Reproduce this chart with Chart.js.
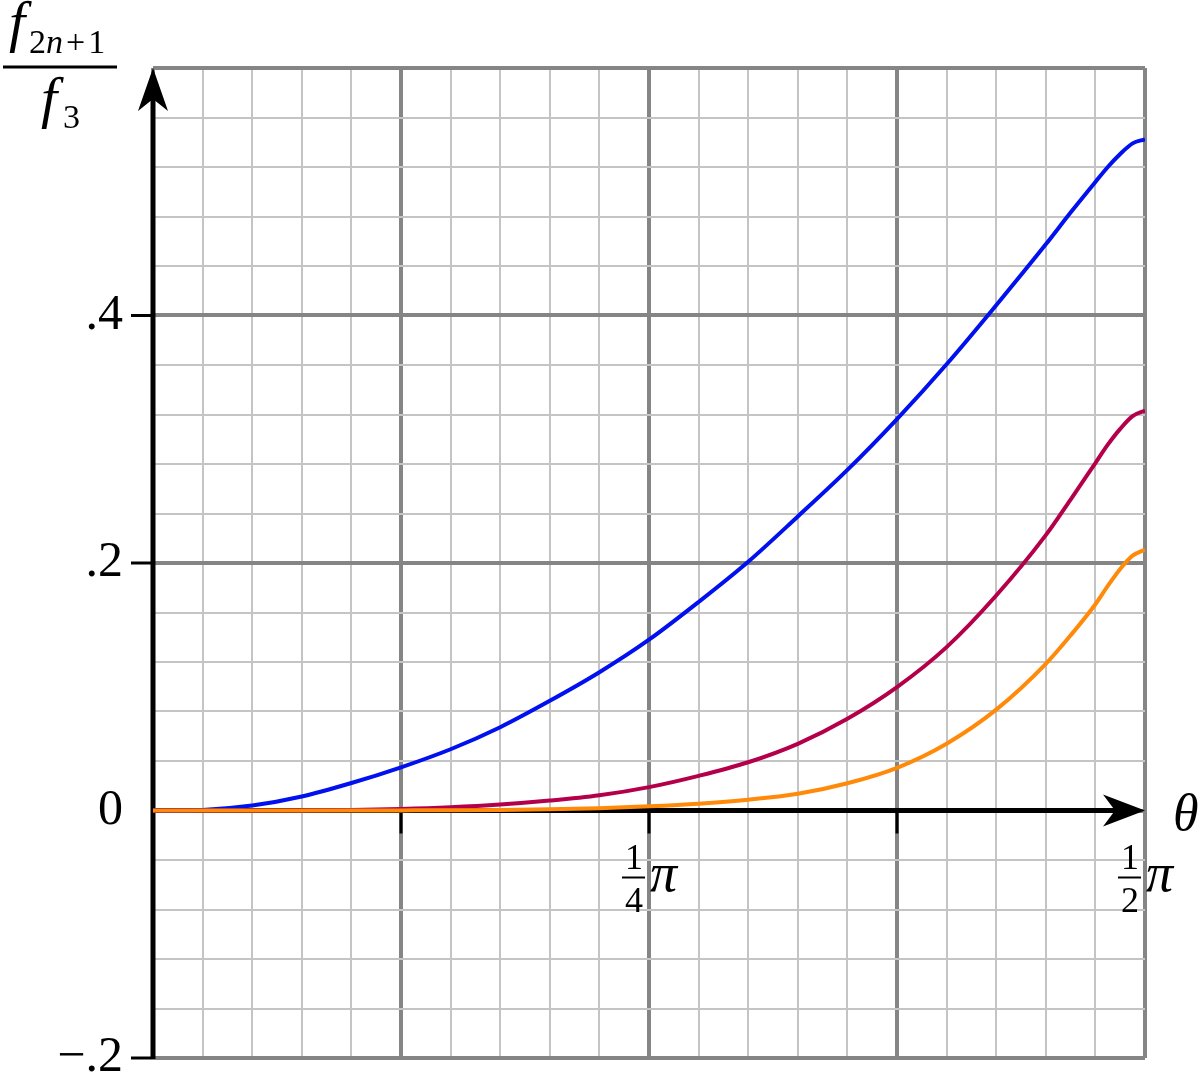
<!DOCTYPE html>
<html>
<head>
<meta charset="utf-8">
<script src="https://cdn.jsdelivr.net/npm/chart.js@4.4.0/dist/chart.umd.min.js"></script>
<style>
    html, body { margin: 0; padding: 0; background: #fff; }
    #wrap { width: 1200px; height: 1080px; }
</style>
</head>
<body>
<div id="wrap"><canvas id="chart" width="1200" height="1080"></canvas></div>
<script>
// theta measured in steps of pi/40 (one minor grid cell), 20 = pi/2
const thetaSteps = [0, 1, 2, 3, 4, 5, 6, 7, 8, 9, 10, 11, 12, 13, 14, 15, 16, 17, 18,
    18.5, 19, 19.25, 19.5, 19.75, 20]

// f_{2n+1} / f_3
const seriesBlue = [0, 0.0005, 0.0040, 0.0113, 0.0222, 0.0349, 0.0495, 0.0673, 0.0886, 0.1117, 0.1380,
    0.1685, 0.2010, 0.2376, 0.2752, 0.3163, 0.3606, 0.4083, 0.4575,
    0.4832, 0.5079, 0.5200, 0.5305, 0.5391, 0.5424]
const seriesRed = [0, 0, 0, 0.0001, 0.0004, 0.0012, 0.0026, 0.0048, 0.0080, 0.0123, 0.0189,
    0.0280, 0.0390, 0.0539, 0.0741, 0.0997, 0.1320, 0.1737, 0.2225,
    0.2513, 0.2808, 0.2956, 0.3084, 0.3187, 0.3232]
const seriesOrange = [0, 0, 0, 0, 0, 0.0001, 0.0002, 0.0005, 0.0010, 0.0019, 0.0034,
    0.0055, 0.0087, 0.0135, 0.0220, 0.0345, 0.0540, 0.0815, 0.1185,
    0.1415, 0.1667, 0.1815, 0.1952, 0.2059, 0.2108]

// y tick labels keyed by value * 100
const yTickLabels = { '-20': '\u2212.2', '0': '0', '20': '.2', '40': '.4' }
const yTickMarks = [-0.2, 0.2, 0.4]
// x tick labels as fractions of pi
const xTickLabels = [
    { at: 10, num: '1', den: '4' },
    { at: 20, num: '1', den: '2' }
]
const xTickMarks = [5, 10, 15]

const serif = '"Liberation Serif", "DejaVu Serif", serif'

function toPoints(values) {
    return thetaSteps.map((t, i) => ({ x: t, y: values[i] }))
}

const isMajorX = v => Math.round(v) % 5 === 0
const isMajorY = v => Math.abs(Math.round(v * 100)) % 20 === 0

const axesPlugin = {
    id: 'axesPlugin',
    beforeDatasetsDraw(chart) {
        const ctx = chart.ctx
        const xs = chart.scales.x
        const ys = chart.scales.y
        const x0 = xs.getPixelForValue(0)
        const y0 = ys.getPixelForValue(0)
        const top = ys.getPixelForValue(0.6)
        const bottom = ys.getPixelForValue(-0.2)
        const right = xs.getPixelForValue(20)

        ctx.save()
        ctx.strokeStyle = '#000'
        ctx.fillStyle = '#000'

        // small tick marks
        ctx.lineWidth = 3
        xTickMarks.forEach(v => {
            const px = xs.getPixelForValue(v)
            ctx.beginPath()
            ctx.moveTo(px, y0)
            ctx.lineTo(px, y0 + 23)
            ctx.stroke()
        })
        yTickMarks.forEach(v => {
            const py = ys.getPixelForValue(v)
            ctx.beginPath()
            ctx.moveTo(x0 - 22, py)
            ctx.lineTo(x0, py)
            ctx.stroke()
        })

        // y axis with arrow
        ctx.lineWidth = 5
        ctx.beginPath()
        ctx.moveTo(x0, bottom + 1)
        ctx.lineTo(x0, top + 30)
        ctx.stroke()
        ctx.beginPath()
        ctx.moveTo(x0, top)
        ctx.lineTo(x0 + 15, top + 43)
        ctx.lineTo(x0, top + 31)
        ctx.lineTo(x0 - 15, top + 43)
        ctx.closePath()
        ctx.fill()

        // x axis with arrow
        ctx.beginPath()
        ctx.moveTo(x0, y0)
        ctx.lineTo(right - 30, y0)
        ctx.stroke()
        ctx.beginPath()
        ctx.moveTo(right, y0)
        ctx.lineTo(right - 42, y0 - 16)
        ctx.lineTo(right - 30, y0)
        ctx.lineTo(right - 42, y0 + 16)
        ctx.closePath()
        ctx.fill()
        ctx.restore()
    },
    afterDraw(chart) {
        const ctx = chart.ctx
        const xs = chart.scales.x
        const ys = chart.scales.y
        const y0 = ys.getPixelForValue(0)

        ctx.save()
        ctx.fillStyle = '#000'
        ctx.strokeStyle = '#000'
        ctx.textBaseline = 'alphabetic'

        // fraction tick labels under the theta axis
        xTickLabels.forEach(l => {
            const px = xs.getPixelForValue(l.at)
            ctx.font = '36px ' + serif
            ctx.textAlign = 'center'
            ctx.fillText(l.num, px - 15, y0 + 58)
            ctx.fillText(l.den, px - 15, y0 + 101)
            ctx.lineWidth = 2
            ctx.beginPath()
            ctx.moveTo(px - 27, y0 + 67)
            ctx.lineTo(px - 4, y0 + 67)
            ctx.stroke()
            ctx.textAlign = 'left'
            ctx.font = 'italic 54px ' + serif
            ctx.fillText('\u03c0', px + 1, y0 + 80)
        })

        // theta label
        ctx.textAlign = 'left'
        ctx.font = 'italic 52px ' + serif
        ctx.fillText('\u03b8', 1173, y0 + 19)

        // y title: f_{2n+1} / f_3
        const big = 'italic 58px ' + serif
        const sub = '34px ' + serif
        const subIt = 'italic 34px ' + serif
        ctx.font = big
        ctx.fillText('f', 9, 41)
        let x = 29
        const parts = [['2', sub, 0], ['n', subIt, 3], ['+', sub, 3], ['1', sub, 0]]
        parts.forEach(p => {
            ctx.font = p[1]
            ctx.fillText(p[0], x, 53)
            x += ctx.measureText(p[0]).width + p[2]
        })
        ctx.lineWidth = 3
        ctx.beginPath()
        ctx.moveTo(3, 67)
        ctx.lineTo(117, 67)
        ctx.stroke()
        ctx.font = big
        ctx.fillText('f', 41, 117)
        ctx.font = sub
        ctx.fillText('3', 63, 128)
        ctx.restore()
    }
}

const ctx = document.getElementById('chart').getContext('2d')
const chart = new Chart(ctx, {
    type: 'line',
    data: {
        datasets: [
            {
                label: 'orange',
                data: toPoints(seriesOrange),
                borderColor: '#ff8a0a',
                borderWidth: 4,
                pointRadius: 0,
                cubicInterpolationMode: 'monotone',
                order: 1
            },
            {
                label: 'red',
                data: toPoints(seriesRed),
                borderColor: '#b4004b',
                borderWidth: 4,
                pointRadius: 0,
                cubicInterpolationMode: 'monotone',
                order: 2
            },
            {
                label: 'blue',
                data: toPoints(seriesBlue),
                borderColor: '#0010ee',
                borderWidth: 4,
                pointRadius: 0,
                cubicInterpolationMode: 'monotone',
                order: 3
            }
        ]
    },
    options: {
        responsive: false,
        animation: false,
        devicePixelRatio: 1,
        layout: {
            padding: { top: 68, right: 55, bottom: 22, left: 0 }
        },
        plugins: {
            legend: { display: false },
            tooltip: { enabled: false }
        },
        scales: {
            x: {
                type: 'linear',
                min: 0,
                max: 20,
                border: { display: false },
                ticks: { display: false, stepSize: 1, autoSkip: false },
                grid: {
                    drawTicks: false,
                    color: c => isMajorX(c.tick.value) ? '#858585' : '#c4c4c4',
                    lineWidth: c => isMajorX(c.tick.value) ? 4 : 2
                },
                afterFit: s => { s.height = 0 }
            },
            y: {
                type: 'linear',
                min: -0.2,
                max: 0.6,
                border: { display: false },
                ticks: {
                    stepSize: 0.04,
                    autoSkip: false,
                    padding: 30,
                    color: '#000',
                    font: { family: serif, size: 50 },
                    callback: v => yTickLabels[String(Math.round(v * 100))] || ''
                },
                grid: {
                    drawTicks: false,
                    color: c => isMajorY(c.tick.value) ? '#858585' : '#c4c4c4',
                    lineWidth: c => isMajorY(c.tick.value) ? 4 : 2
                },
                afterFit: s => {
                    s.width = 153
                    s.paddingTop = 0
                    s.paddingBottom = 0
                }
            }
        }
    },
    plugins: [axesPlugin]
})
</script>
</body>
</html>
